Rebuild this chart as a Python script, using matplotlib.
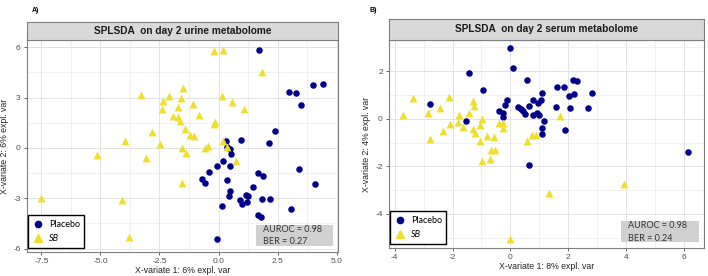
import numpy as np
import matplotlib
matplotlib.use("Agg")
import matplotlib.pyplot as plt
from matplotlib.patches import Rectangle
from matplotlib.lines import Line2D

plt.rcParams['font.family'] = ['Liberation Sans', 'DejaVu Sans']
plt.rcParams['axes.unicode_minus'] = False

#### DATA : URINE (PANEL A)
urine_placebo_x = [1.73, 3.99, 4.42, 3.00, 3.29, 3.51, 2.38, 0.96, 2.15, 0.31, 0.50, 0.52, 0.18, -0.06,
                   0.50, -0.40, -0.71, -0.57, 0.35, 1.66, 1.88, 3.42, 4.07, 1.45, 0.50, 0.45, 1.15, 1.25,
                   0.92, 0.99, 1.20, 1.83, 2.20, 0.16, 3.06, 1.66, 1.80, -0.07, 0.37]
urine_placebo_y = [5.82, 3.73, 3.82, 3.35, 3.29, 2.57, 1.02, 0.50, 0.28, 0.40, -0.05, -0.37, -0.75, -1.10,
                   -1.08, -1.46, -1.85, -2.10, -1.90, -1.50, -1.66, -1.25, -2.14, -2.32, -2.57, -2.89, -2.79, -2.89,
                   -3.13, -3.33, -3.23, -3.05, -3.02, -3.48, -3.66, -4.00, -4.14, -5.45, 0.03]
urine_sb_x = [-0.17, 0.21, 1.83, -1.50, -3.28, -2.08, -1.58, -2.34, 0.14, 0.56, -1.07, -2.40, -1.72, 1.08,
              -0.81, -1.91, -1.70, -1.63, -0.13, -0.20, -2.80, -1.42, -1.21, -1.05, -3.95, -2.48, 0.18,
              -0.43, -0.59, -1.54, -1.36, 0.36, -5.15, -3.05, 0.72, -1.56, -7.53, -4.10, -3.77]
urine_sb_y = [5.78, 5.82, 4.50, 3.58, 3.18, 3.08, 2.98, 2.78, 3.08, 2.73, 2.64, 2.34, 2.42, 2.30,
              1.96, 1.88, 1.84, 1.62, 1.55, 1.42, 0.94, 1.15, 0.76, 0.70, 0.42, 0.24, 0.42,
              0.13, 0.0, 0.0, -0.28, 0.08, -0.43, -0.60, -0.80, -2.11, -3.00, -3.12, -5.32]

#### DATA : SERUM (PANEL B)
serum_placebo_x = [0.00, 0.10, -1.43, 0.58, -0.95, 2.16, 2.30, 1.61, 1.84, 1.09, 2.82, 2.19, 2.03, -0.12,
                   -0.18, 0.78, 1.05, 0.97, -2.79, 0.28, 0.37, 0.43, 0.51, 0.66, -0.41, -0.24, -0.26, 0.80,
                   0.91, 1.00, 1.58, 2.07, 2.67, 1.17, -1.52, 1.09, 1.09, 1.89, 0.64, 6.13]
serum_placebo_y = [2.97, 2.14, 1.92, 1.61, 1.19, 1.65, 1.57, 1.34, 1.34, 1.08, 1.10, 1.03, 0.94, 0.79,
                   0.58, 0.79, 0.79, 0.65, 0.62, 0.48, 0.42, 0.33, 0.18, 0.54, 0.34, 0.26, 0.09, 0.16,
                   0.26, 0.16, 0.51, 0.44, 0.47, -0.08, -0.08, -0.40, -0.64, -0.47, -1.93, -1.40]
serum_sb_x = [-3.37, -2.13, -3.72, -2.85, -2.45, -1.29, -1.26, -1.44, -1.79, -0.97, -2.10, -1.81, -1.64,
              -2.33, -1.05, -1.29, -1.21, -2.79, -0.80, -0.58, -1.06, -0.66, -0.52, -0.70, -0.98, -0.38,
              -0.24, -0.26, 0.57, 0.74, 0.89, 1.72, 3.93, 1.34, -0.02]
serum_sb_y = [0.86, 0.93, 0.16, 0.26, 0.47, 0.76, 0.54, 0.23, 0.16, -0.02, -0.22, -0.12, -0.36,
              -0.50, -0.28, -0.44, -0.58, -0.86, -0.72, -0.78, -0.92, -1.31, -1.33, -1.68, -1.79, -0.19,
              -0.19, -0.40, -0.92, -0.70, -0.70, 0.12, -2.73, -3.11, -5.07]

titles = ["SPLSDA  on day 2 urine metabolome", "SPLSDA  on day 2 serum metabolome"]
xlabels = ["X-variate 1: 6% expl. var", "X-variate 1: 8% expl. var"]
ylabels = ["X-variate 2: 6% expl. var", "X-variate 2: 4% expl. var"]
scores = ["AUROC = 0.98\nBER = 0.27", "AUROC = 0.98\nBER = 0.24"]
panel_tags = ["A)", "B)"]

blue = '#00008B'
yellow = '#F0DE2C'

fig = plt.figure(figsize=(7.08, 2.76), dpi=100)
W, H = 708, 276

def px_axes(x0, y0, x1, y1):
    # pixel box (top-left origin) -> figure fraction
    return [x0 / W, 1 - y1 / H, (x1 - x0) / W, (y1 - y0) / H]

panels = [
    dict(box=(27, 40, 338, 252), strip=(27, 22, 338, 40),
         px=urine_placebo_x, py=urine_placebo_y, sx=urine_sb_x, sy=urine_sb_y,
         xlim=(-8.11, 5.06), ylim=(-6.2, 6.43),
         xticks=[-7.5, -5.0, -2.5, 0.0, 2.5, 5.0], xminor=np.arange(-8.75, 6, 1.25),
         yticks=[-6, -3, 0, 3, 6], yminor=np.arange(-7.5, 8, 1.5), xfmt="{:.1f}", tag_x=32),
    dict(box=(389, 40, 704, 248), strip=(389, 19, 704, 40),
         px=serum_placebo_x, py=serum_placebo_y, sx=serum_sb_x, sy=serum_sb_y,
         xlim=(-4.2, 6.7), ylim=(-5.43, 3.31),
         xticks=[-4, -2, 0, 2, 4, 6], xminor=np.arange(-5, 8, 1),
         yticks=[-4, -2, 0, 2], yminor=np.arange(-6, 5, 1), xfmt="{:d}", tag_x=370),
]

for i, p in enumerate(panels):
    ax = fig.add_axes(px_axes(*p['box']))
    ax.set_xlim(*p['xlim'])
    ax.set_ylim(*p['ylim'])
    for v in p['xminor']:
        ax.axvline(v, color='#EBEBEB', lw=0.5, zorder=0)
    for v in p['yminor']:
        ax.axhline(v, color='#EBEBEB', lw=0.5, zorder=0)
    ax.set_xticks(p['xticks'])
    ax.set_yticks(p['yticks'])
    ax.set_xticklabels([p['xfmt'].format(v) for v in p['xticks']])
    ax.set_yticklabels([str(v) for v in p['yticks']])
    ax.grid(True, color='#E3E3E3', lw=0.7, zorder=0)
    ax.set_axisbelow(True)
    ax.tick_params(labelsize=6, colors='#4D4D4D', length=2.5, width=0.6, pad=2)
    for s in ax.spines.values():
        s.set_color('#7F7F7F')
        s.set_linewidth(0.8)

    ax.scatter(p['px'], p['py'], s=22, marker='o', color=blue, zorder=3, linewidths=0)
    ax.scatter(p['sx'], p['sy'], s=32, marker='^', color=yellow, zorder=3, linewidths=0)

    ax.set_xlabel(xlabels[i], fontsize=6.3, labelpad=0.5, color='#222222')
    ax.set_ylabel(ylabels[i], fontsize=6.3, labelpad=3, color='#222222')

    # legend
    handles = [Line2D([], [], marker='o', ls='', color=blue, markersize=4.5),
               Line2D([], [], marker='^', ls='', color=yellow, markersize=5.5)]
    leg = ax.legend(handles, ['Placebo', 'SB'], loc='lower left', bbox_to_anchor=(0.003, 0.02),
                    borderaxespad=0, fancybox=False, edgecolor='black', framealpha=1,
                    prop={'family': 'Lato', 'size': 6.5}, handletextpad=0.6, borderpad=0.5,
                    labelspacing=0.6, handlelength=1.2)
    leg.get_frame().set_linewidth(1.0)
    leg.get_texts()[1].set_style('italic')

    # AUROC box
    ax.add_patch(Rectangle((0.735, 0.028), 0.25, 0.1, transform=ax.transAxes,
                           facecolor='#D0D0D0', edgecolor='none', zorder=4))
    ax.text(0.76, 0.078, scores[i], transform=ax.transAxes, fontsize=6.5, family='Lato',
            va='center', ha='left', color='#333333', linespacing=1.5, zorder=5)

    # facet strip
    sax = fig.add_axes(px_axes(*p['strip']))
    sax.set_facecolor('#D9D9D9')
    sax.set_xticks([])
    sax.set_yticks([])
    for s in sax.spines.values():
        s.set_color('#7F7F7F')
        s.set_linewidth(0.8)
    sax.text(0.5, 0.5, titles[i], transform=sax.transAxes, ha='center', va='center',
             fontsize=7.3, fontweight='bold', color='#1A1A1A')

    fig.text(p['tag_x'] / W, 1 - 11 / H, panel_tags[i], fontsize=5, fontweight='bold', va='center')

fig.savefig('out.png', dpi=100)
